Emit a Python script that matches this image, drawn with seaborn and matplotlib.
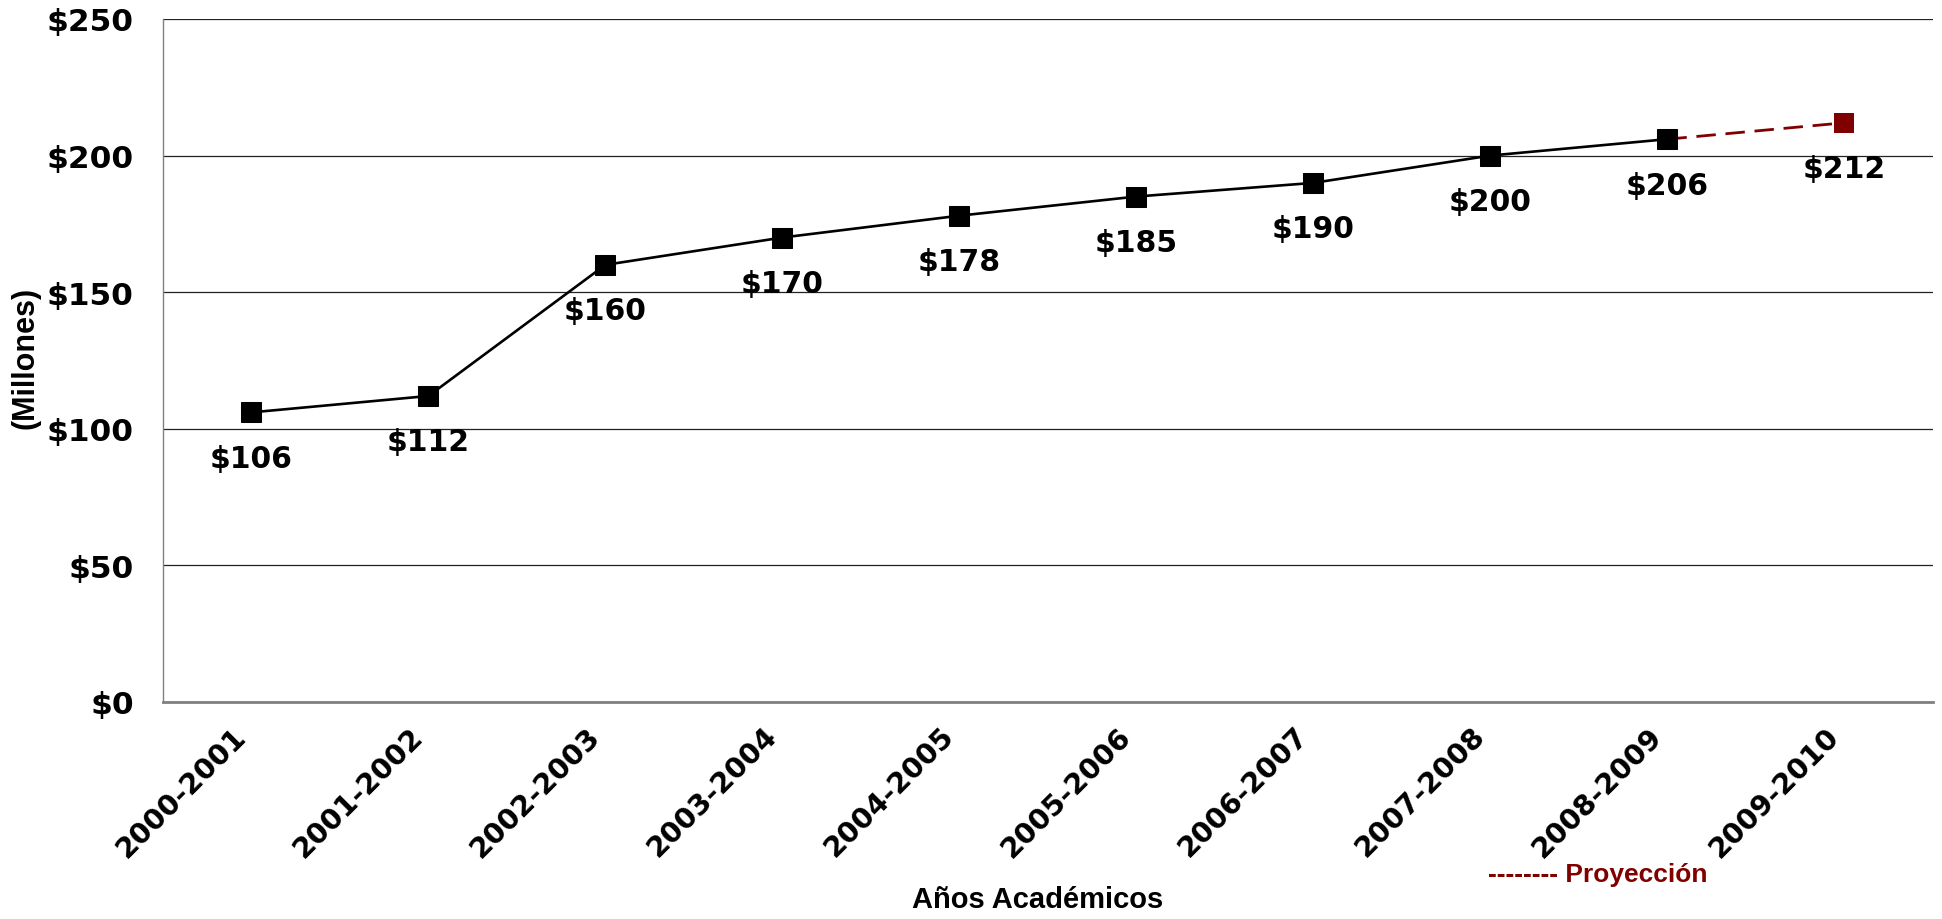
import numpy as np
import pandas as pd
import matplotlib
matplotlib.use('Agg')
import matplotlib.pyplot as plt
import matplotlib.transforms as mtransforms
import seaborn as sns
from matplotlib.ticker import FixedLocator, FuncFormatter

# data (millions of dollars per academic year)
anios = ['2000-2001', '2001-2002', '2002-2003', '2003-2004', '2004-2005',
         '2005-2006', '2006-2007', '2007-2008', '2008-2009', '2009-2010']
valores = [106, 112, 160, 170, 178, 185, 190, 200, 206, 212]
n_real = 9  # last value is a projection

rojo = '#800000'

sns.set_style('white')
plt.rcParams['font.family'] = ['DejaVu Sans']
plt.rcParams['text.color'] = 'black'
plt.rcParams['xtick.color'] = 'black'
plt.rcParams['ytick.color'] = 'black'

df = pd.DataFrame({'pos': np.arange(len(anios)) + 0.5, 'anio': anios, 'valor': valores})
real = df.iloc[:n_real]
proy = df.iloc[n_real - 1:]

fig = plt.figure(figsize=(19.42, 9.2), dpi=100)
ax = fig.add_axes([0.0839, 0.2359, 0.9114, 0.7424])

# projection segment first so the black marker sits on top
sns.lineplot(data=proy, x='pos', y='valor', color=rojo, lw=2.0,
             linestyle=(0, (7, 3.5)), ax=ax, zorder=2)
sns.scatterplot(data=df.iloc[n_real:], x='pos', y='valor', color=rojo, marker='s',
                s=200, edgecolor=rojo, linewidth=0, ax=ax, zorder=4)
sns.lineplot(data=real, x='pos', y='valor', color='black', lw=1.9, marker='s',
             markersize=14, markeredgecolor='black', markerfacecolor='black', ax=ax, zorder=3)

# value labels under each point
for p, v in zip(df['pos'], df['valor']):
    ax.annotate(f'${v}', (p, v), xytext=(0, -33), textcoords='offset points',
                ha='center', va='center', fontsize=21.5, fontweight='bold',
                family='DejaVu Sans', color='black')

ax.set_xlim(0, len(anios))
ax.set_ylim(0, 250)

ax.set_yticks(range(0, 251, 50))
ax.yaxis.set_major_formatter(FuncFormatter(lambda y, _: f'${int(y)}'))
ax.yaxis.grid(True, color='#222222', lw=0.9)
ax.set_axisbelow(True)

ax.set_xticks(df['pos'])
ax.set_xticklabels(anios)
ax.xaxis.set_minor_locator(FixedLocator(np.arange(0, len(anios) + 1)))
ax.tick_params(axis='x', which='major', length=0, pad=21, labelsize=20.5)
ax.tick_params(axis='x', which='minor', length=9, width=1, color='#808080', direction='out')
ax.tick_params(axis='y', length=9, width=1, color='#808080', direction='out', pad=12, labelsize=22.5)
shift = mtransforms.ScaledTranslation(-7 / 72, 0, fig.dpi_scale_trans)
for lab in ax.get_xticklabels():
    lab.set_rotation(45)
    lab.set_ha('right')
    lab.set_va('center')
    lab.set_rotation_mode('anchor')
    lab.set_fontweight('bold')
    lab.set_transform(lab.get_transform() + shift)
plt.setp(ax.get_yticklabels(), fontweight='bold')

for side in ['top', 'right']:
    ax.spines[side].set_visible(False)
ax.spines['left'].set_color('#808080')
ax.spines['left'].set_linewidth(1)
ax.spines['bottom'].set_color('#808080')
ax.spines['bottom'].set_linewidth(2)

ax.set_xlabel('')
ax.set_ylabel('')
fig.text(0.5345, 0.0217, 'Años Académicos', ha='center', va='center',
         fontsize=21, fontweight='bold', family='Liberation Sans')
fig.text(0.0129, 0.611, '(Millones)', ha='center', va='center', rotation=90,
         fontsize=22, fontweight='bold', family='Liberation Sans')
fig.text(0.766, 0.049, '-------- Proyección', ha='left', va='center', color=rojo,
         fontsize=19, fontweight='bold', family='Liberation Sans')

fig.savefig('out.png', dpi=100)
